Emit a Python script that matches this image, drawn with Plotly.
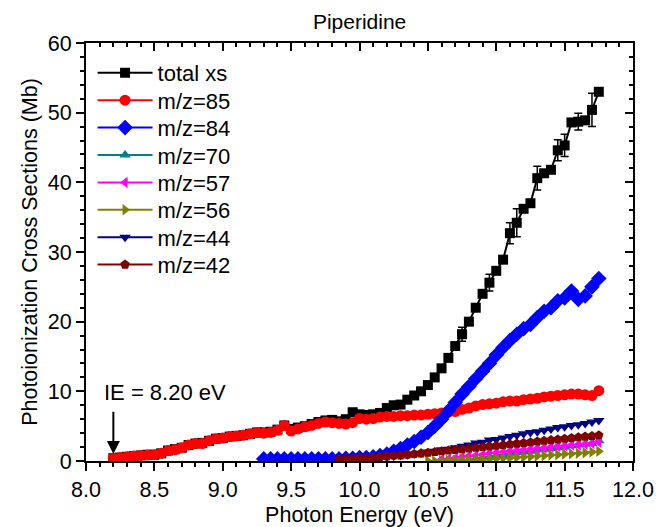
import plotly.graph_objects as go

# ---------------- data ----------------
energy_total = [8.20, 8.25, 8.30, 8.35, 8.40, 8.45, 8.50, 8.55, 8.60, 8.65, 8.70, 8.75, 8.80, 8.85, 8.90, 8.95,
                9.00, 9.05, 9.10, 9.15, 9.20, 9.25, 9.30, 9.35, 9.40, 9.45, 9.50, 9.55, 9.60, 9.65, 9.70, 9.75,
                9.80, 9.85, 9.90, 9.95, 10.00, 10.05, 10.10, 10.15, 10.20, 10.25, 10.30, 10.35, 10.40, 10.45,
                10.50, 10.55, 10.60, 10.65, 10.70, 10.75, 10.80, 10.85, 10.90, 10.95, 11.00, 11.05, 11.10, 11.15,
                11.20, 11.25, 11.30, 11.35, 11.40, 11.45, 11.50, 11.55, 11.60, 11.65, 11.70, 11.75]
total_xs = [0.4, 0.5, 0.6, 0.7, 0.8, 0.9, 0.9, 1.1, 1.5, 1.7, 1.9, 2.3, 2.5, 2.6, 2.9, 3.2,
            3.3, 3.5, 3.6, 3.7, 3.9, 4.1, 4.1, 4.2, 4.5, 5.1, 4.6, 4.8, 5.0, 5.3, 5.6, 5.8,
            5.9, 5.7, 6.0, 7.0, 6.7, 6.6, 6.7, 6.9, 7.6, 8.0, 8.1, 8.8, 9.4, 10.0,
            10.9, 12.0, 13.3, 14.8, 16.5, 18.2, 20.0, 22.0, 24.0, 25.6, 27.3, 28.9, 32.7, 34.2,
            36.2, 37.0, 40.6, 41.3, 41.8, 44.6, 45.3, 48.6, 48.7, 48.9, 50.4, 53.0]
total_err = [None] * 31 + [0.6] + [None] * 2 + [0.5, None, 0.5] + [None] * 3 + [0.5] + [None] * 10 + \
            [1.0, None, None, None, 1.2, None, None, 1.5, 2.0, None, None, 1.7, None, None, 1.5, 1.6,
             None, 1.2, None, 2.4, None]

mz85 = [0.4, 0.5, 0.6, 0.7, 0.8, 0.85, 0.9, 1.1, 1.5, 1.6, 1.9, 2.3, 2.5, 2.5, 2.9, 3.2,
        3.3, 3.5, 3.6, 3.7, 3.9, 4.1, 4.0, 4.1, 4.4, 5.1, 4.3, 4.6, 4.9, 5.1, 5.4, 5.6,
        5.5, 5.4, 5.3, 5.5, 6.1, 6.0, 6.1, 6.3, 6.4, 6.4, 6.5, 6.5, 6.6, 6.6,
        6.7, 6.8, 6.9, 7.0, 7.1, 7.4, 7.6, 7.9, 8.1, 8.2, 8.3, 8.5, 8.6, 8.6,
        8.8, 8.9, 9.0, 9.2, 9.3, 9.4, 9.5, 9.6, 9.6, 9.5, 9.4, 10.1]

energy_84 = [9.30, 9.35, 9.40, 9.45, 9.50, 9.55, 9.60, 9.65, 9.70, 9.75, 9.80, 9.85, 9.90, 9.95,
             10.00, 10.05, 10.10, 10.15, 10.20, 10.25, 10.30, 10.35, 10.40, 10.45, 10.50, 10.55, 10.60,
             10.65, 10.70, 10.75, 10.80, 10.85, 10.90, 10.95, 11.00, 11.05, 11.10, 11.15, 11.20, 11.25,
             11.30, 11.35, 11.40, 11.45, 11.50, 11.55, 11.60, 11.65, 11.70, 11.75]
mz84 = [0.3, 0.3, 0.3, 0.3, 0.3, 0.3, 0.3, 0.3, 0.3, 0.3, 0.3, 0.3, 0.4, 0.4,
        0.5, 0.5, 0.6, 0.8, 1.0, 1.4, 1.8, 2.3, 2.8, 3.4, 4.1, 5.0, 6.0,
        7.2, 8.4, 9.6, 10.7, 11.8, 12.9, 14.0, 15.2, 16.3, 17.3, 18.2, 19.0, 19.6,
        20.6, 21.5, 22.0, 23.0, 23.4, 24.4, 23.2, 23.7, 25.0, 26.2]

energy_70 = [10.80, 10.85, 10.90, 10.95, 11.00, 11.05, 11.10, 11.15, 11.20, 11.25, 11.30, 11.35,
             11.40, 11.45, 11.50, 11.55, 11.60, 11.65, 11.70, 11.75]
mz70 = [0.2, 0.3, 0.5, 0.6, 0.8, 0.9, 1.1, 1.2, 1.3, 1.4, 1.6, 1.7, 1.8, 1.9, 2.0, 2.2, 2.3, 2.4, 2.5, 2.9]

energy_57 = [10.60, 10.65, 10.70, 10.75, 10.80, 10.85, 10.90, 10.95, 11.00, 11.05, 11.10, 11.15,
             11.20, 11.25, 11.30, 11.35, 11.40, 11.45, 11.50, 11.55, 11.60, 11.65, 11.70, 11.75]
mz57 = [0.2, 0.3, 0.4, 0.6, 0.7, 0.8, 0.9, 1.1, 1.2, 1.3, 1.4, 1.5,
        1.6, 1.7, 1.8, 1.9, 2.0, 2.1, 2.2, 2.3, 2.3, 2.4, 2.5, 2.7]

energy_56 = [10.50, 10.55, 10.60, 10.65, 10.70, 10.75, 10.80, 10.85, 10.90, 10.95, 11.00, 11.05,
             11.10, 11.15, 11.20, 11.25, 11.30, 11.35, 11.40, 11.45, 11.50, 11.55, 11.60, 11.65,
             11.70, 11.75]
mz56 = [0.0, 0.0, 0.05, 0.1, 0.1, 0.15, 0.15, 0.2, 0.2, 0.3, 0.35, 0.4,
        0.45, 0.5, 0.55, 0.6, 0.7, 0.75, 0.85, 0.9, 1.0, 1.05, 1.1, 1.2, 1.3, 1.4]

energy_44 = [9.90, 9.95, 10.00, 10.05, 10.10, 10.15, 10.20, 10.25, 10.30, 10.35, 10.40, 10.45, 10.50,
             10.55, 10.60, 10.65, 10.70, 10.75, 10.80, 10.85, 10.90, 10.95, 11.00, 11.05, 11.10, 11.15,
             11.20, 11.25, 11.30, 11.35, 11.40, 11.45, 11.50, 11.55, 11.60, 11.65, 11.70, 11.75]
mz44 = [0.1, 0.1, 0.2, 0.3, 0.4, 0.5, 0.6, 0.7, 0.8, 0.9, 1.0, 1.1, 1.3,
        1.4, 1.6, 1.7, 1.9, 2.1, 2.3, 2.6, 2.7, 3.0, 3.1, 3.3, 3.5, 3.7,
        3.9, 4.1, 4.2, 4.4, 4.6, 4.8, 4.9, 5.1, 5.2, 5.4, 5.6, 5.8]

energy_42 = [9.85, 9.90, 9.95, 10.00, 10.05, 10.10, 10.15, 10.20, 10.25, 10.30, 10.35, 10.40, 10.45,
             10.50, 10.55, 10.60, 10.65, 10.70, 10.75, 10.80, 10.85, 10.90, 10.95, 11.00, 11.05, 11.10,
             11.15, 11.20, 11.25, 11.30, 11.35, 11.40, 11.45, 11.50, 11.55, 11.60, 11.65, 11.70, 11.75]
mz42 = [0.2, 0.3, 0.3, 0.4, 0.4, 0.5, 0.6, 0.7, 0.8, 0.8, 0.9, 1.0, 1.1,
        1.2, 1.3, 1.4, 1.5, 1.6, 1.7, 1.8, 1.9, 2.0, 2.1, 2.2, 2.3, 2.4,
        2.5, 2.6, 2.7, 2.8, 2.9, 3.0, 3.1, 3.2, 3.3, 3.4, 3.5, 3.6, 3.7]

x_ticks = [8.0, 8.5, 9.0, 9.5, 10.0, 10.5, 11.0, 11.5, 12.0]
y_ticks = [0, 10, 20, 30, 40, 50, 60]

FONT = "Arial, Liberation Sans, sans-serif"

series = [
    ("total xs", energy_total, total_xs, "black", "square", 10),
    ("m/z=85", energy_total, mz85, "#ff0000", "circle", 11),
    ("m/z=84", energy_84, mz84, "#0000ff", "diamond", 12),
    ("m/z=70", energy_70, mz70, "#008080", "triangle-up", 10),
    ("m/z=57", energy_57, mz57, "#ff00ff", "triangle-left", 10),
    ("m/z=56", energy_56, mz56, "#808000", "triangle-right", 10),
    ("m/z=44", energy_44, mz44, "#000080", "triangle-down", 10),
    ("m/z=42", energy_42, mz42, "#800000", "pentagon", 10),
]

# plot area geometry (px) used to place one legend per entry
PLOT_TOP, PLOT_BOTTOM = 43, 461
LEG_FIRST, LEG_STEP = 73, 27.4

fig = go.Figure()
legends = {}
for i, (name, xs, ys, col, sym, sz) in enumerate(series):
    kw = {}
    if name == "total xs":
        kw["error_y"] = dict(type="data", array=total_err, color="black", thickness=1.5, width=4)
    leg_id = "legend" if i == 0 else f"legend{i + 1}"
    fig.add_trace(go.Scatter(
        x=xs, y=ys, name=name, mode="lines+markers", legend=leg_id,
        line=dict(color=col, width=2),
        marker=dict(symbol=sym, size=sz, color=col, line=dict(width=0)),
        **kw))
    ypix = LEG_FIRST + i * LEG_STEP
    legends[leg_id] = dict(x=0.012, y=(PLOT_BOTTOM - ypix) / (PLOT_BOTTOM - PLOT_TOP),
                           xanchor="left", yanchor="middle", bgcolor="rgba(0,0,0,0)",
                           font=dict(family=FONT, size=22, color="black"), itemwidth=55)

# invisible trace to carry the mirrored top/right axes
fig.add_trace(go.Scatter(x=energy_total, y=total_xs, xaxis="x2", yaxis="y2", mode="markers",
                         marker=dict(opacity=0), showlegend=False, hoverinfo="skip"))

axis_common = dict(showline=True, linecolor="black", linewidth=2, showgrid=False, zeroline=False,
                   ticklen=8, tickwidth=2, tickcolor="black", automargin=False,
                   tickfont=dict(family=FONT, size=21.5, color="black"))

fig.update_layout(
    width=658, height=527,
    margin=dict(l=86, r=25, t=PLOT_TOP, b=527 - PLOT_BOTTOM),
    paper_bgcolor="white", plot_bgcolor="white",
    font=dict(family=FONT, size=22, color="black"),
    title=dict(text="Piperidine", x=0.5465, xanchor="center", y=0.958, yanchor="middle",
               font=dict(family=FONT, size=21, color="black")),
    xaxis=dict(range=[8.0, 12.0], tickvals=x_ticks, ticktext=[f"{v:.1f}" for v in x_ticks],
               ticks="outside",
               minor=dict(dtick=0.1, ticks="outside", ticklen=4, tickwidth=2, tickcolor="black"),
               title=dict(text="Photon Energy (eV)", font=dict(family=FONT, size=21.5), standoff=6),
               **axis_common),
    yaxis=dict(range=[0, 60], tickvals=y_ticks, ticks="outside",
               minor=dict(dtick=2, ticks="outside", ticklen=4, tickwidth=2, tickcolor="black"),
               title=dict(text="Photoionization Cross Sections (Mb)", font=dict(family=FONT, size=21.5),
                          standoff=4),
               **axis_common),
    xaxis2=dict(range=[8.0, 12.0], overlaying="x", side="top", tickvals=x_ticks, ticks="inside",
                showticklabels=False,
                minor=dict(dtick=0.1, ticks="inside", ticklen=4, tickwidth=2, tickcolor="black"),
                **axis_common),
    yaxis2=dict(range=[0, 60], overlaying="y", side="right", tickvals=y_ticks, ticks="inside",
                showticklabels=False,
                minor=dict(dtick=2, ticks="inside", ticklen=4, tickwidth=2, tickcolor="black"),
                **axis_common),
    showlegend=True,
    **legends,
)

fig.add_annotation(x=8.2, y=1.0, ax=8.2, ay=7.3, xref="x", yref="y", axref="x", ayref="y",
                   text="", showarrow=True, arrowhead=2, arrowsize=1.3, arrowwidth=2,
                   arrowcolor="black")
fig.add_annotation(x=8.58, y=9.9, xref="x", yref="y", text="IE = 8.20 eV", showarrow=False,
                   font=dict(family=FONT, size=22, color="black"))

fig.write_html("out.html")
